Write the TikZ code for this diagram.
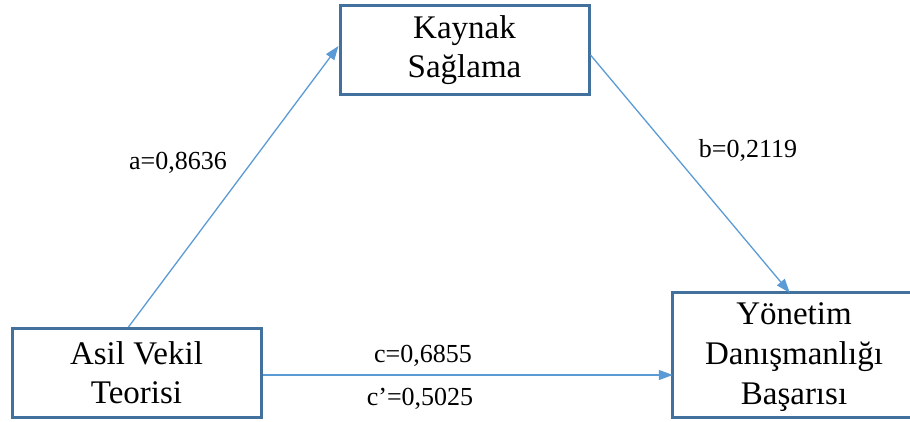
\documentclass[tikz,border=0pt]{standalone}
\usepackage{fontspec}
\setmainfont{Liberation Serif}
\usetikzlibrary{arrows.meta,calc}
\definecolor{boxblue}{HTML}{41719C}
\definecolor{linkblue}{HTML}{5B9BD5}
\begin{document}
\begin{tikzpicture}[x=1pt,y=-1pt,
  boxline/.style={draw=boxblue,line width=3pt},
  box/.style={boxline,fill=white,inner sep=0pt,
    align=center,font=\fontsize{33}{39}\selectfont},
  boxtext/.style={inner sep=0pt,align=center,font=\fontsize{33}{40}\selectfont},
  link/.style={draw=linkblue,line width=1.3pt,
    -{Triangle[length=14pt,width=10pt]}},
  coef/.style={anchor=base,inner sep=0pt,font=\fontsize{26}{30}\selectfont}]
  \useasboundingbox (0,0) rectangle (910,422);
  % variable boxes
  \node[box,minimum width=249pt,minimum height=89pt] (kaynak) at (464.5,50) {Kaynak\\Sağlama};
  \node[box,minimum width=249pt,minimum height=89pt] (asil) at (136.5,373) {Asil Vekil\\Teorisi};
  % the outcome box runs past the right margin, so its right side is not drawn
  \node[inner sep=0pt,minimum width=290pt,minimum height=124pt] (yonetim) at (818,355) {};
  \draw[boxline,line cap=rect] (yonetim.north east) -- (yonetim.north west)
    -- (yonetim.south west) -- (yonetim.south east);
  \node[boxtext] (yonetimtext) at (794,357) {Yönetim\\Danışmanlığı\\Başarısı};
  % paths
  \draw[link] ($(asil.north)+(-8,0)$) -- ($(kaynak.west)+(0,-4)$);
  \draw[link] ($(kaynak.east)+(0,5)$) -- ($(yonetim.north west)+(117,0)$);
  \draw[link] ($(asil.east)+(0,2)$) -- ($(asil.east -| yonetim.west)+(0,2)$);
  % coefficients
  \node[coef] (la) at (178,170) {a=0,8636};
  \node[coef] (lb) at (748,158) {b=0,2119};
  \node[coef] (lc) at (423,362) {c=0,6855};
  \node[coef] (lcp) at (420,405) {c’=0,5025};
\end{tikzpicture}
\end{document}
